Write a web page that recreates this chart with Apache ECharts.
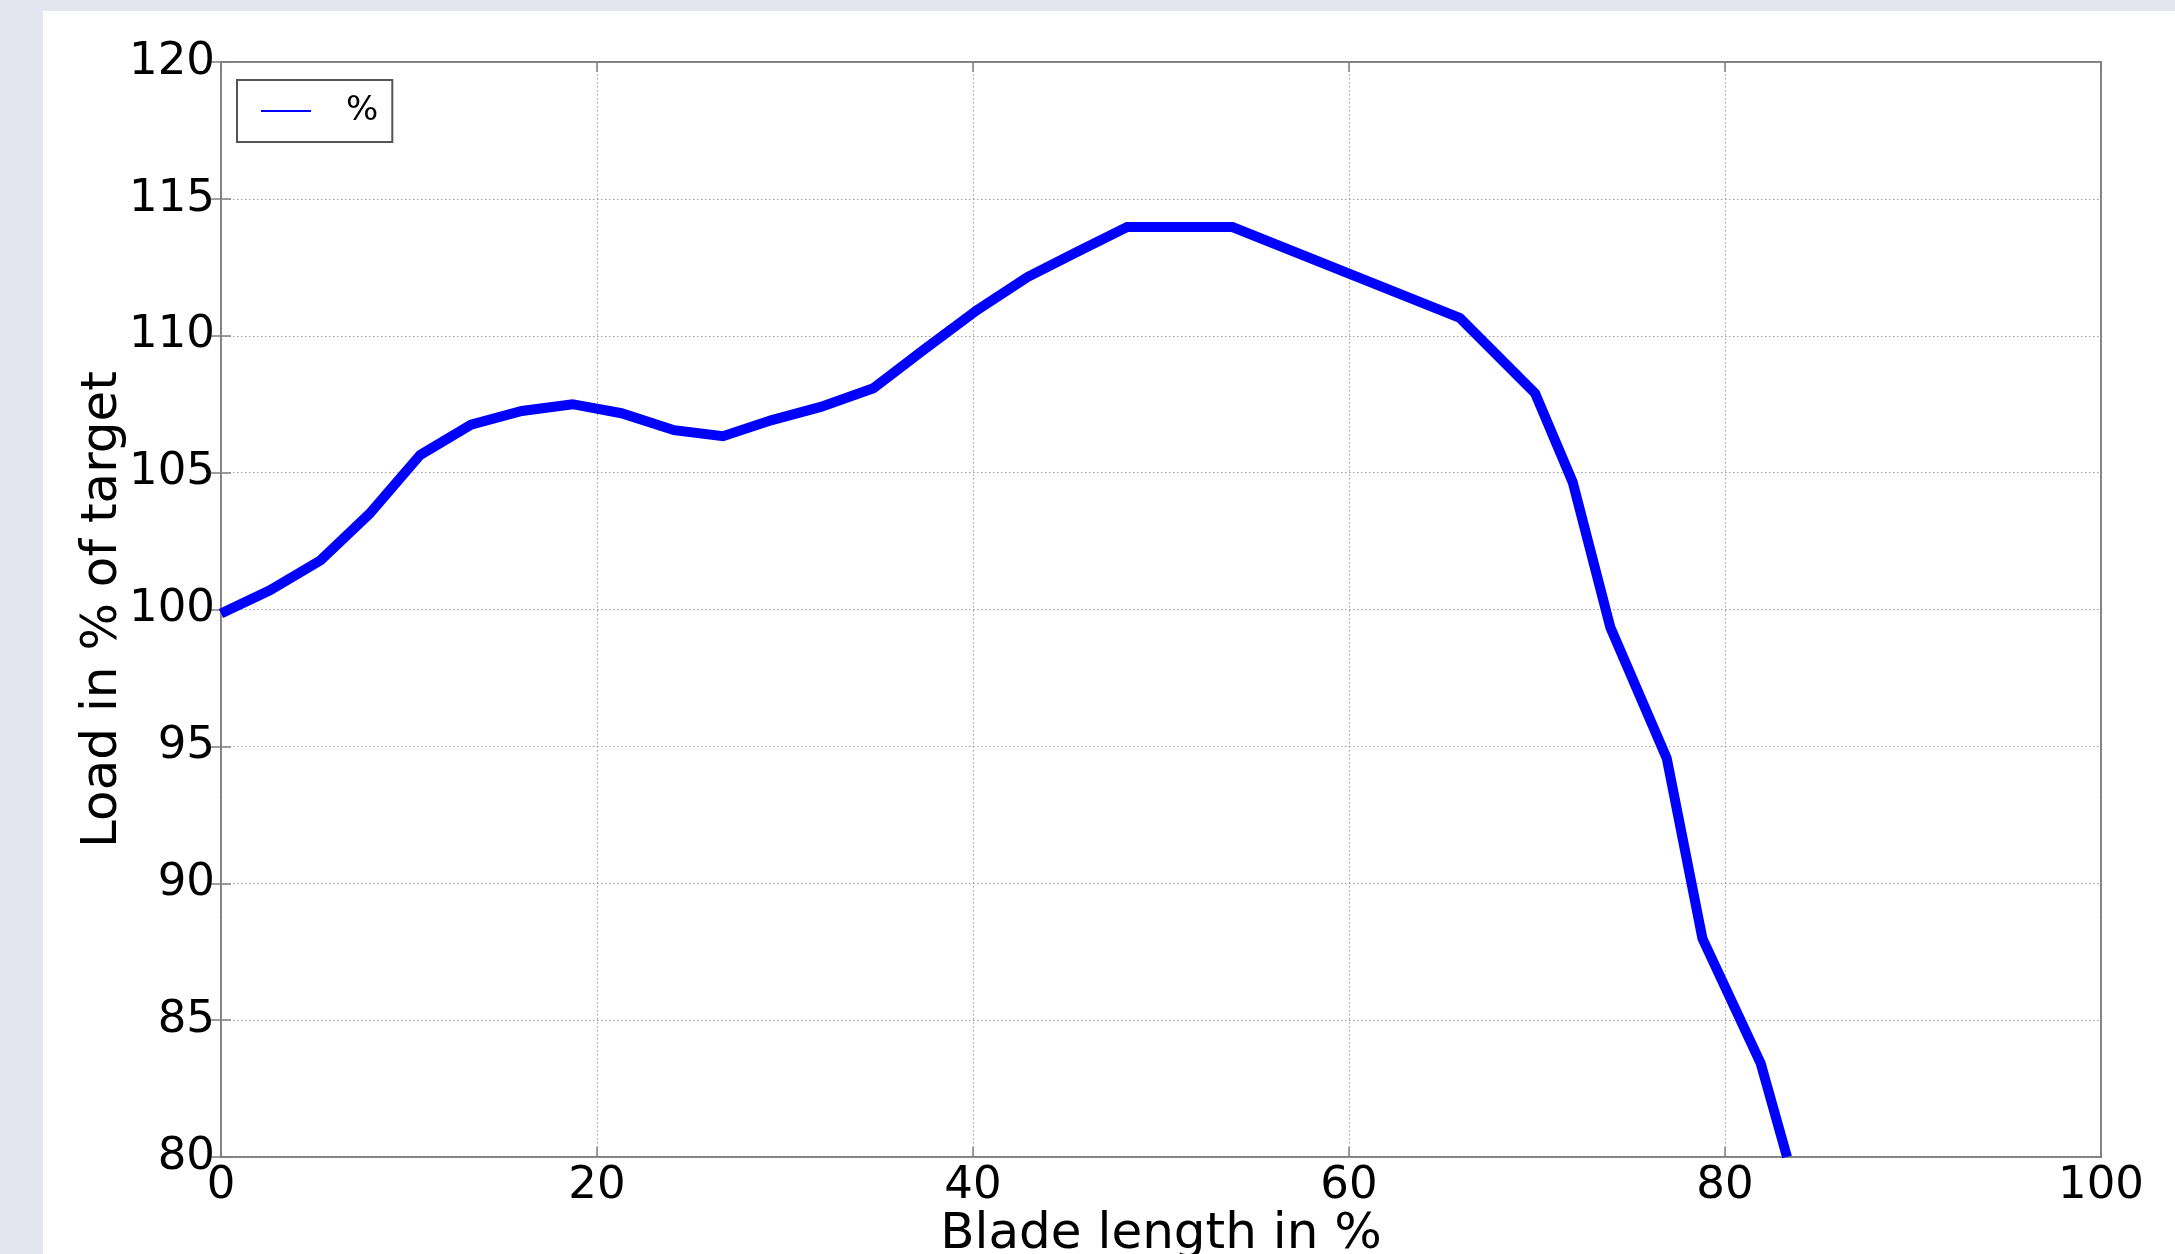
<!DOCTYPE html>
<html>
<head>
<meta charset="utf-8">
<script src="https://cdn.jsdelivr.net/npm/echarts@6/dist/echarts.min.js"></script>
<style>
  html, body { margin: 0; padding: 0; background: #e3e6ef; width: 2175px; height: 1254px; overflow: hidden; }
  #chart { position: absolute; left: 43px; top: 11px; width: 2132px; height: 1243px; background: #ffffff; }
</style>
</head>
<body>
<div id="chart"></div>
<script>
// Blade length in % (x) and load in % of target (y)
const bladeLength = [0, 2.6, 5.3, 7.9, 10.6, 13.3, 16.0, 18.7, 21.3, 24.1, 26.7, 29.3, 31.9, 34.7,
  37.4, 40.2, 42.9, 45.5, 48.2, 53.8, 65.9, 69.9, 71.9, 73.9, 76.9, 78.8, 81.9, 83.3];
const loadPercent = [99.85, 100.7, 101.8, 103.5, 105.65, 106.75, 107.25, 107.5, 107.17, 106.55, 106.33, 106.92, 107.4, 108.08,
  109.5, 110.93, 112.14, 113.05, 113.97, 113.97, 110.65, 107.9, 104.65, 99.35, 94.57, 87.98, 83.42, 80.0];
const seriesName = '%';
const xTitle = 'Blade length in %';
const yTitle = 'Load in % of target';

const FONT = 'DejaVu Sans';
const frameColor = '#808080';
const gridLine = { show: true, lineStyle: { color: '#9a9a9a', width: 1, type: [1.5, 2.5] } };
const tickStyle = { show: true, inside: true, length: 10, lineStyle: { color: frameColor, width: 1.5 } };

const chart = echarts.init(document.getElementById('chart'), null, { renderer: 'canvas' });
chart.setOption({
  animation: false,
  grid: { left: 178, top: 51, right: 74, bottom: 97, containLabel: false, outerBoundsMode: 'none',
    show: true, borderColor: frameColor, borderWidth: 2, backgroundColor: '#ffffff' },
  legend: {
    left: 194, top: 69,
    orient: 'vertical',
    icon: 'rect', itemWidth: 50, itemHeight: 2,
    padding: [14, 14, 14, 24],
    borderColor: '#555555', borderWidth: 2, borderRadius: 0,
    backgroundColor: '#ffffff',
    textStyle: { fontFamily: FONT, fontSize: 34, color: '#000', padding: [0, 0, 0, 30] },
    data: [seriesName]
  },
  xAxis: [{
    type: 'value', min: 0, max: 100, interval: 20, position: 'bottom',
    name: xTitle, nameLocation: 'middle', nameGap: 53, nameMoveOverlap: false,
    nameTextStyle: { fontFamily: FONT, fontSize: 50, color: '#000' },
    axisLine: { show: false }, axisTick: tickStyle,
    axisLabel: { fontFamily: FONT, fontSize: 45, color: '#000', margin: 7 },
    splitLine: gridLine
  }, {
    type: 'value', min: 0, max: 100, interval: 20, position: 'top',
    axisLine: { show: false }, axisTick: tickStyle, axisLabel: { show: false }, splitLine: { show: false }
  }],
  yAxis: [{
    type: 'value', min: 80, max: 120, interval: 5, position: 'left',
    name: yTitle, nameLocation: 'middle', nameGap: 93, nameRotate: 90, nameMoveOverlap: false,
    nameTextStyle: { fontFamily: FONT, fontSize: 50, color: '#000' },
    axisLine: { show: false }, axisTick: tickStyle,
    axisLabel: { fontFamily: FONT, fontSize: 45, color: '#000', margin: 6 },
    splitLine: gridLine
  }, {
    type: 'value', min: 80, max: 120, interval: 5, position: 'right',
    axisLine: { show: false }, axisTick: tickStyle, axisLabel: { show: false }, splitLine: { show: false }
  }],
  series: [{
    name: seriesName,
    type: 'line',
    xAxisIndex: 0, yAxisIndex: 0,
    data: bladeLength.map((x, i) => [x, loadPercent[i]]),
    showSymbol: false, symbol: 'none',
    clip: true,
    itemStyle: { color: '#0000ff' },
    lineStyle: { color: '#0000ff', width: 10, join: 'miter' }
  }]
});
</script>
</body>
</html>
